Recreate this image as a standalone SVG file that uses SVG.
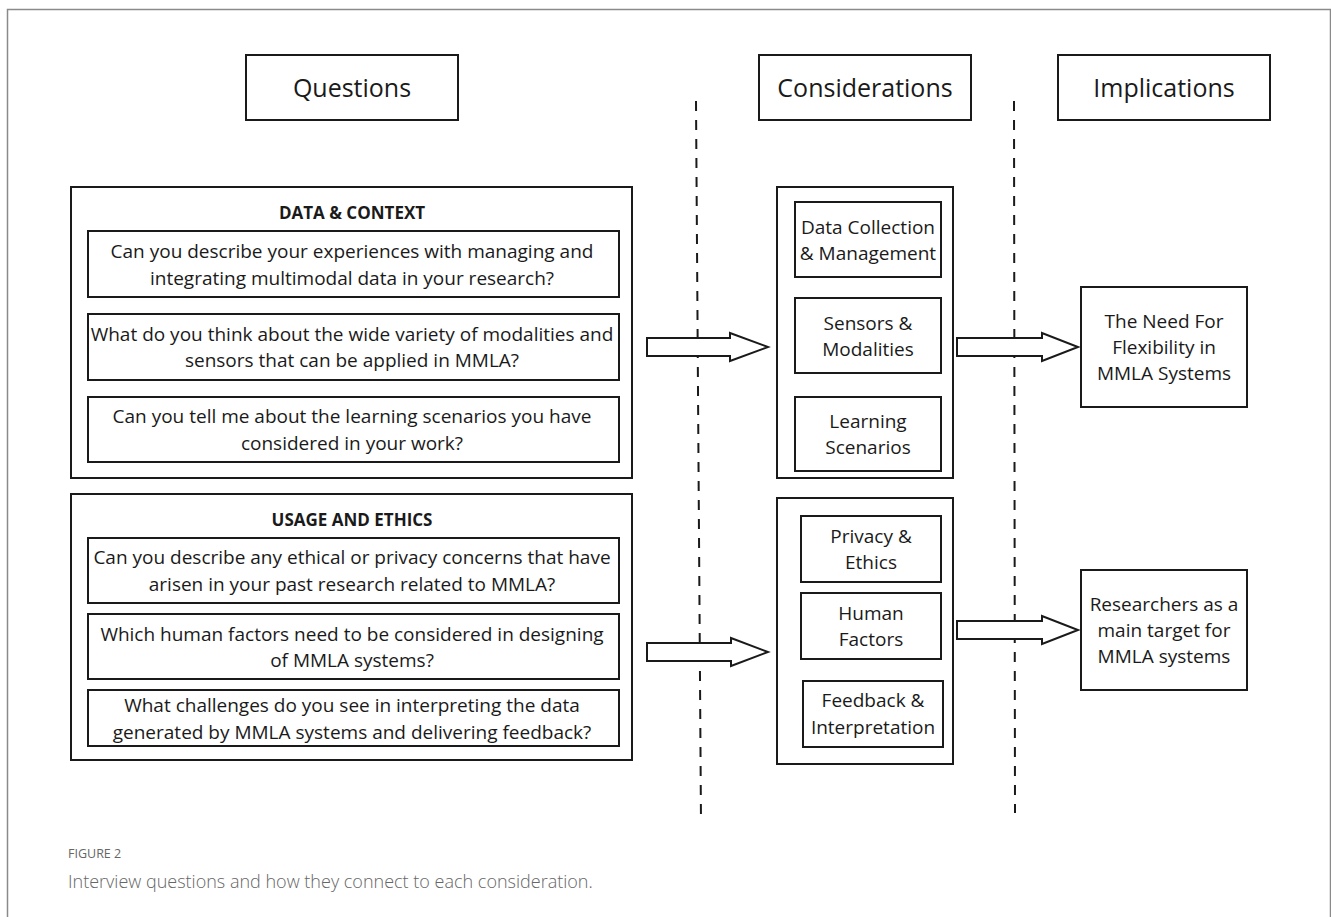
<svg xmlns="http://www.w3.org/2000/svg" width="1331" height="917" viewBox="0 0 1331 917">
<style>
text{font-family:"Open Sans","Noto Sans","Liberation Sans",sans-serif;fill:#1a1a1a;text-anchor:middle}
.b{fill:#fff;stroke:#1a1a1a;stroke-width:2}
.h{font-size:25px}
.q{font-size:19px}
.t{font-size:17px;font-weight:bold}
.dash{stroke:#1a1a1a;stroke-width:2;stroke-dasharray:10,9;fill:none}
.arr{fill:#fff;stroke:#1a1a1a;stroke-width:2;stroke-linejoin:miter}
</style>
<rect width="1331" height="917" fill="#fff"/>
<path d="M7.5,917 V9.5 H1330.5 V917" fill="none" stroke="#8a8a8a" stroke-width="1.5"/>

<g id="dividers">
<line class="dash" x1="696" y1="101" x2="701" y2="823"/>
<line class="dash" x1="1014" y1="101" x2="1015" y2="813"/>
</g>

<g id="hdr-questions"><rect class="b" x="246" y="55" width="212" height="65"/><text class="h" x="352" y="97">Questions</text></g>
<g id="hdr-considerations"><rect class="b" x="759" y="55" width="212" height="65"/><text class="h" x="865" y="97">Considerations</text></g>
<g id="hdr-implications"><rect class="b" x="1058" y="55" width="212" height="65"/><text class="h" x="1164" y="97">Implications</text></g>

<g id="data-context">
<rect class="b" x="71" y="187" width="561" height="291"/>
<text class="t" x="352" y="219">DATA &amp; CONTEXT</text>
<rect class="b" x="88" y="231" width="531" height="66"/>
<text class="q" x="352" y="258">Can you describe your experiences with managing and</text>
<text class="q" x="352" y="285">integrating multimodal data in your research?</text>
<rect class="b" x="88" y="314" width="531" height="66"/>
<text class="q" x="352" y="341">What do you think about the wide variety of modalities and</text>
<text class="q" x="352" y="367">sensors that can be applied in MMLA?</text>
<rect class="b" x="88" y="397" width="531" height="65"/>
<text class="q" x="352" y="423">Can you tell me about the learning scenarios you have</text>
<text class="q" x="352" y="450">considered in your work?</text>
</g>

<g id="usage-ethics">
<rect class="b" x="71" y="494" width="561" height="266"/>
<text class="t" x="352" y="526">USAGE AND ETHICS</text>
<rect class="b" x="88" y="538" width="531" height="65"/>
<text class="q" x="352" y="564">Can you describe any ethical or privacy concerns that have</text>
<text class="q" x="352" y="591">arisen in your past research related to MMLA?</text>
<rect class="b" x="88" y="614" width="531" height="65"/>
<text class="q" x="352" y="641">Which human factors need to be considered in designing</text>
<text class="q" x="352" y="667">of MMLA systems?</text>
<rect class="b" x="88" y="690" width="531" height="56"/>
<text class="q" x="352" y="712">What challenges do you see in interpreting the data</text>
<text class="q" x="352" y="739">generated by MMLA systems and delivering feedback?</text>
</g>

<g id="considerations-1">
<rect class="b" x="777" y="187" width="176" height="291"/>
<rect class="b" x="795" y="202" width="146" height="75"/>
<text class="q" x="868" y="234">Data Collection</text>
<text class="q" x="868" y="260">&amp; Management</text>
<rect class="b" x="795" y="298" width="146" height="75"/>
<text class="q" x="868" y="330">Sensors &amp;</text>
<text class="q" x="868" y="356">Modalities</text>
<rect class="b" x="795" y="397" width="146" height="74"/>
<text class="q" x="868" y="428">Learning</text>
<text class="q" x="868" y="454">Scenarios</text>
</g>

<g id="considerations-2">
<rect class="b" x="777" y="498" width="176" height="266"/>
<rect class="b" x="801" y="516" width="140" height="66"/>
<text class="q" x="871" y="543">Privacy &amp;</text>
<text class="q" x="871" y="569">Ethics</text>
<rect class="b" x="801" y="593" width="140" height="66"/>
<text class="q" x="871" y="620">Human</text>
<text class="q" x="871" y="646">Factors</text>
<rect class="b" x="803" y="681" width="140" height="66"/>
<text class="q" x="873" y="707">Feedback &amp;</text>
<text class="q" x="873" y="734">Interpretation</text>
</g>

<g id="impl-flexibility">
<rect class="b" x="1081" y="287" width="166" height="120"/>
<text class="q" x="1164" y="328">The Need For</text>
<text class="q" x="1164" y="354">Flexibility in</text>
<text class="q" x="1164" y="380">MMLA Systems</text>
</g>
<g id="impl-researchers">
<rect class="b" x="1081" y="570" width="166" height="120"/>
<text class="q" x="1164" y="611">Researchers as a</text>
<text class="q" x="1164" y="637">main target for</text>
<text class="q" x="1164" y="663">MMLA systems</text>
</g>

<g id="connectors">
<path class="arr" d="M647,338 H730 V333 L768,347 L730,361 V356 H647 Z"/>
<path class="arr" d="M957,338 H1042 V333 L1078,347 L1042,361 V356 H957 Z"/>
<path class="arr" d="M647,643 H731 V638 L768,652 L731,666 V661 H647 Z"/>
<path class="arr" d="M957,621 H1042 V616 L1078,630 L1042,644 V639 H957 Z"/>
</g>

<g id="caption">
<text x="68" y="858" style="text-anchor:start;font-size:12.5px;fill:#666">FIGURE 2</text>
<text x="68" y="888" style="text-anchor:start;font-size:18px;fill:#666;font-weight:300">Interview questions and how they connect to each consideration.</text>
</g>
</svg>
